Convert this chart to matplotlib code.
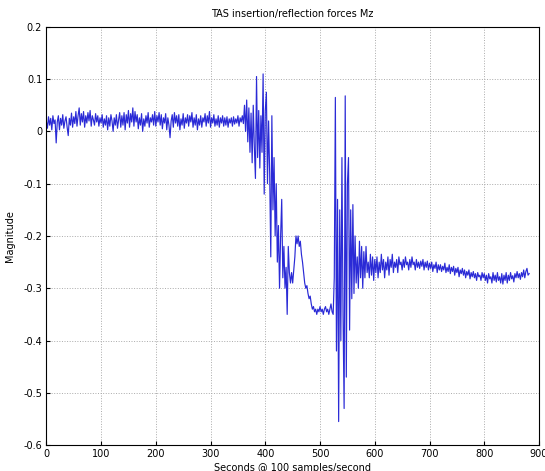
import numpy as np
import matplotlib
matplotlib.use("Agg")
from matplotlib import pyplot as plt
from matplotlib.ticker import FuncFormatter

# Mz force readings, one value every 2 samples
step = 2
mz = [
    0.02, 0.006, 0.028, 0.012, 0.025, 0.003, 0.03, 0.015, 0.022, -0.022,
    0.018, 0.03, 0.003, 0.025, 0.012, 0.032, 0.006, 0.02, 0.028, 0.008,
    -0.008, 0.025, 0.012, 0.035, 0.008, 0.028, 0.015, 0.038, 0.01, 0.03,
    0.045, 0.012, 0.034, 0.018, 0.038, 0.008, 0.03, 0.016, 0.036, 0.02,
    0.04, 0.01, 0.03, 0.022, 0.012, 0.034, 0.018, 0.03, 0.01, 0.026,
    0.016, 0.032, 0.008, 0.024, 0.012, 0.03, 0.003, 0.026, 0.01, 0.032,
    0.02, 0.0, 0.026, 0.012, 0.032, 0.006, 0.022, 0.036, 0.008, 0.03,
    0.012, 0.036, 0.003, 0.032, 0.016, 0.04, 0.008, 0.034, 0.018, 0.045,
    0.01, 0.038, 0.018, 0.032, 0.005, 0.026, 0.012, 0.034, 0.0, 0.024,
    0.01, 0.03, 0.016, 0.036, 0.008, 0.026, 0.018, 0.032, 0.012, 0.038,
    0.01, 0.03, 0.018, 0.036, 0.012, 0.032, 0.005, 0.026, 0.016, 0.034,
    0.003, 0.026, 0.012, -0.012, 0.02, 0.032, 0.008, 0.036, 0.016, 0.03,
    0.01, 0.032, 0.003, 0.024, 0.012, 0.034, 0.006, 0.026, 0.016, 0.032,
    0.01, 0.03, 0.018, 0.036, 0.008, 0.026, 0.012, 0.032, 0.003, 0.024,
    0.012, 0.03, 0.008, 0.026, 0.018, 0.034, 0.01, 0.03, 0.016, 0.038,
    0.008, 0.026, 0.016, 0.032, 0.01, 0.024, 0.012, 0.03, 0.008, 0.026,
    0.016, 0.03, 0.01, 0.026, 0.012, 0.028, 0.008, 0.024, 0.016, 0.026,
    0.01, 0.028, 0.014, 0.024, 0.016, 0.03, 0.01, 0.026, 0.018, 0.03,
    0.015, 0.05, 0.0, 0.06, -0.02, 0.045, -0.04, 0.035, -0.06, 0.05,
    -0.03, -0.09, 0.105, -0.05, 0.04, -0.07, 0.03, -0.04, 0.11, -0.12,
    0.04, 0.075, -0.1, 0.02, -0.08, -0.24, 0.03, -0.15, -0.05, -0.2,
    -0.1, -0.25, -0.18, -0.3, -0.2, -0.13, -0.28, -0.22, -0.3, -0.26,
    -0.35, -0.22, -0.27, -0.29, -0.27, -0.29, -0.265, -0.24, -0.2, -0.215,
    -0.2, -0.22, -0.21, -0.235, -0.25, -0.27, -0.29, -0.3, -0.295, -0.31,
    -0.32, -0.315, -0.33, -0.34, -0.335, -0.345, -0.34, -0.35, -0.34, -0.345,
    -0.335, -0.345, -0.34, -0.35, -0.34, -0.335, -0.345, -0.34, -0.35, -0.34,
    -0.33, -0.345, -0.35, -0.28, 0.065, -0.42, -0.13, -0.555, -0.15, -0.4,
    -0.05, -0.35, -0.53, 0.068, -0.47, -0.1, -0.05, -0.38, -0.15, -0.32,
    -0.14, -0.31, -0.2, -0.29, -0.24, -0.3, -0.21, -0.28, -0.22, -0.3,
    -0.23, -0.28, -0.22, -0.27, -0.25, -0.28, -0.235, -0.275, -0.24, -0.285,
    -0.245, -0.27, -0.24, -0.28, -0.25, -0.27, -0.235, -0.265, -0.245, -0.28,
    -0.25, -0.265, -0.24, -0.275, -0.245, -0.26, -0.235, -0.27, -0.25, -0.26,
    -0.245, -0.27, -0.24, -0.255, -0.25, -0.265, -0.245, -0.26, -0.24, -0.255,
    -0.25, -0.265, -0.245, -0.26, -0.24, -0.255, -0.25, -0.265, -0.245, -0.26,
    -0.25, -0.262, -0.248, -0.258, -0.245, -0.265, -0.25, -0.26, -0.248, -0.265,
    -0.252, -0.262, -0.25, -0.268, -0.255, -0.262, -0.25, -0.27, -0.255, -0.265,
    -0.255, -0.268, -0.258, -0.265, -0.252, -0.27, -0.26, -0.268, -0.255, -0.272,
    -0.26, -0.268, -0.258, -0.275, -0.262, -0.27, -0.26, -0.278, -0.265, -0.272,
    -0.262, -0.275, -0.265, -0.28, -0.268, -0.275, -0.265, -0.282, -0.27, -0.278,
    -0.268, -0.28, -0.272, -0.285, -0.27, -0.278, -0.275, -0.285, -0.27, -0.28,
    -0.272, -0.285, -0.275, -0.29, -0.272, -0.282, -0.278, -0.29, -0.27, -0.285,
    -0.275, -0.288, -0.27, -0.285, -0.278, -0.29, -0.272, -0.292, -0.275, -0.285,
    -0.27, -0.29, -0.275, -0.285, -0.27, -0.282, -0.276, -0.288, -0.272, -0.28,
    -0.268, -0.28, -0.272, -0.283, -0.27, -0.278, -0.265, -0.28, -0.268, -0.262,
    -0.275, -0.272,
]
samples = np.arange(len(mz)) * step

x_ticks = [0, 100, 200, 300, 400, 500, 600, 700, 800, 900]
y_ticks = [-0.6, -0.5, -0.4, -0.3, -0.2, -0.1, 0, 0.1, 0.2]

fig = plt.figure(figsize=(5.45, 4.71), dpi=100)
ax = fig.add_axes([0.085, 0.055, 0.904, 0.888])
ax.plot(samples, mz, color='#2a2ad6', linewidth=0.85)

ax.set_xlim(0, 900)
ax.set_ylim(-0.6, 0.2)
ax.set_xticks(x_ticks)
ax.set_yticks(y_ticks)
ax.yaxis.set_major_formatter(FuncFormatter(lambda v, p: ('%g' % round(v, 1))))
ax.tick_params(direction='in', labelsize=7, length=3, pad=3)
ax.grid(True, linestyle=':', color='#aaaaaa', linewidth=0.7)
for s in ax.spines.values():
    s.set_linewidth(0.8)

ax.set_title('TAS insertion/reflection forces Mz', fontsize=7, pad=7)
ax.set_ylabel('Magnitude', fontsize=7, labelpad=6)
ax.set_xlabel('Seconds @ 100 samples/second', fontsize=7, labelpad=3)

fig.savefig('out.png', dpi=100)
